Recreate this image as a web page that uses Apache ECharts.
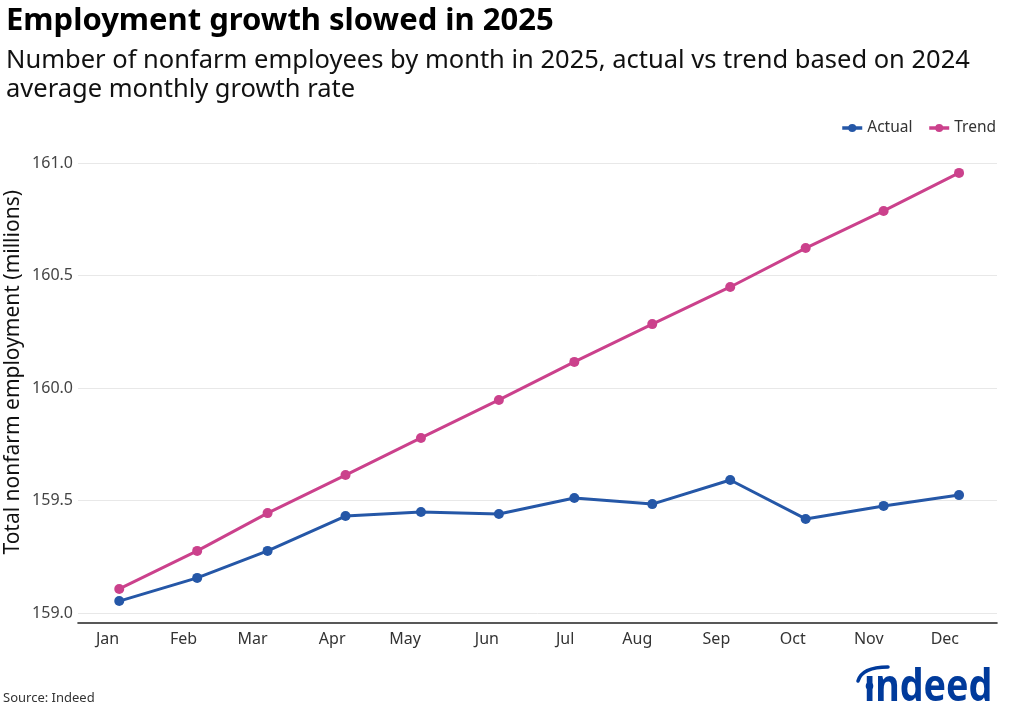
<!DOCTYPE html>
<html>
<head>
<meta charset="utf-8">
<script src="https://cdn.jsdelivr.net/npm/echarts@6/dist/echarts.min.js"></script>
<style>
html,body{margin:0;padding:0;background:#fff;}
#chart{width:1024px;height:717px;}
</style>
</head>
<body>
<div id="chart"></div>
<script>
// ---- data ----
const monthDates = [[2025,0,1],[2025,1,1],[2025,2,1],[2025,3,1],[2025,4,1],[2025,5,1],[2025,6,1],[2025,7,1],[2025,8,1],[2025,9,1],[2025,10,1],[2025,11,1]];
const monthLabels = ['Jan','Feb','Mar','Apr','May','Jun','Jul','Aug','Sep','Oct','Nov','Dec'];
const actualValues = [159.053,159.156,159.276,159.431,159.449,159.440,159.511,159.484,159.591,159.418,159.476,159.524];
const trendValues  = [159.107,159.276,159.444,159.613,159.778,159.947,160.116,160.284,160.449,160.622,160.787,160.956];
const yTicks = [159.0,159.5,160.0,160.5,161.0];
// x-axis domain in days relative to 1 Jan 2025
const xDomain = [-16.4, 349.1];

const DAY = 86400000;
// days since 1 Jan 2025 for each month's first day
const dayIndex = monthDates.map(d => (Date.UTC(d[0], d[1], d[2]) - Date.UTC(2025,0,1)) / DAY);
const actualData = dayIndex.map((t,i) => [t, actualValues[i]]);
const trendData  = dayIndex.map((t,i) => [t, trendValues[i]]);

const FONT = '"Noto Sans", "Open Sans", sans-serif';
const BLUE = '#2557a7';
const PINK = '#cb418c';
const LOGO = '#003a9b';

const chart = echarts.init(document.getElementById('chart'), null, {renderer:'canvas'});
chart.setOption({
  backgroundColor:'#ffffff',
  animation:false,
  title:[
    {text:'Employment growth slowed in 2025', left:1, top:1,
     textStyle:{fontFamily:FONT, fontSize:31, fontWeight:'bold', color:'#000'}},
    {text:'Number of nonfarm employees by month in 2025, actual vs trend based on 2024\naverage monthly growth rate',
     left:1, top:41,
     textStyle:{fontFamily:FONT, fontSize:25.5, fontWeight:'normal', color:'#111', lineHeight:29}}
  ],
  legend:{
    right:23, top:115, itemWidth:20, itemHeight:10, itemGap:15,
    textStyle:{fontFamily:FONT, fontSize:15.5, color:'#333'},
    lineStyle:{width:3.5},
    data:['Actual','Trend']
  },
  grid:{left:78, right:27, top:163, bottom:104, containLabel:false},
  xAxis:{
    type:'value',
    min: xDomain[0],
    max: xDomain[1],
    offset:10,
    axisLine:{show:true, lineStyle:{color:'#222', width:1.6}},
    axisTick:{show:false},
    splitLine:{show:false},
    axisLabel:{
      customValues: dayIndex,
      margin:8, align:'right',
      fontFamily:FONT, fontSize:16, color:'#333',
      formatter:function(v){ const i = dayIndex.indexOf(v); return i >= 0 ? monthLabels[i] : ''; }
    }
  },
  yAxis:{
    type:'value',
    min:yTicks[0], max:yTicks[yTicks.length-1], interval:0.5,
    axisLine:{show:false},
    axisTick:{show:false},
    splitLine:{show:true, lineStyle:{color:'#e8e8e8', width:1}},
    axisLabel:{
      margin:5, fontFamily:FONT, fontSize:16, color:'#444',
      formatter:function(v){ return v.toFixed(1); }
    }
  },
  graphic:[
    {type:'text', left:3, top:190, rotation:Math.PI/2,
     style:{text:'Total nonfarm employment (millions)', fontFamily:FONT, fontSize:21, fill:'#111'}},
    {type:'text', left:3, top:692,
     style:{text:'Source: Indeed', fontFamily:FONT, fontSize:13, fill:'#333'}},
    {type:'text', x:864, y:666, scaleX:0.856,
     style:{text:'\u0131ndeed', fontFamily:FONT, fontSize:44, fontWeight:'bold', fill:LOGO}},
    {type:'circle', shape:{cx:869.5, cy:686, r:3.8}, style:{fill:LOGO}},
    {type:'bezierCurve', shape:{x1:858, y1:681, cpx1:862, cpy1:667, x2:888, y2:667},
     style:{stroke:LOGO, lineWidth:3.5, fill:null, lineCap:'round'}}
  ],
  series:[
    {name:'Actual', type:'line', data:actualData, color:BLUE,
     symbol:'circle', symbolSize:10, lineStyle:{width:3, color:BLUE}, itemStyle:{color:BLUE}},
    {name:'Trend', type:'line', data:trendData, color:PINK,
     symbol:'circle', symbolSize:10, lineStyle:{width:3, color:PINK}, itemStyle:{color:PINK}}
  ]
});
</script>
</body>
</html>
